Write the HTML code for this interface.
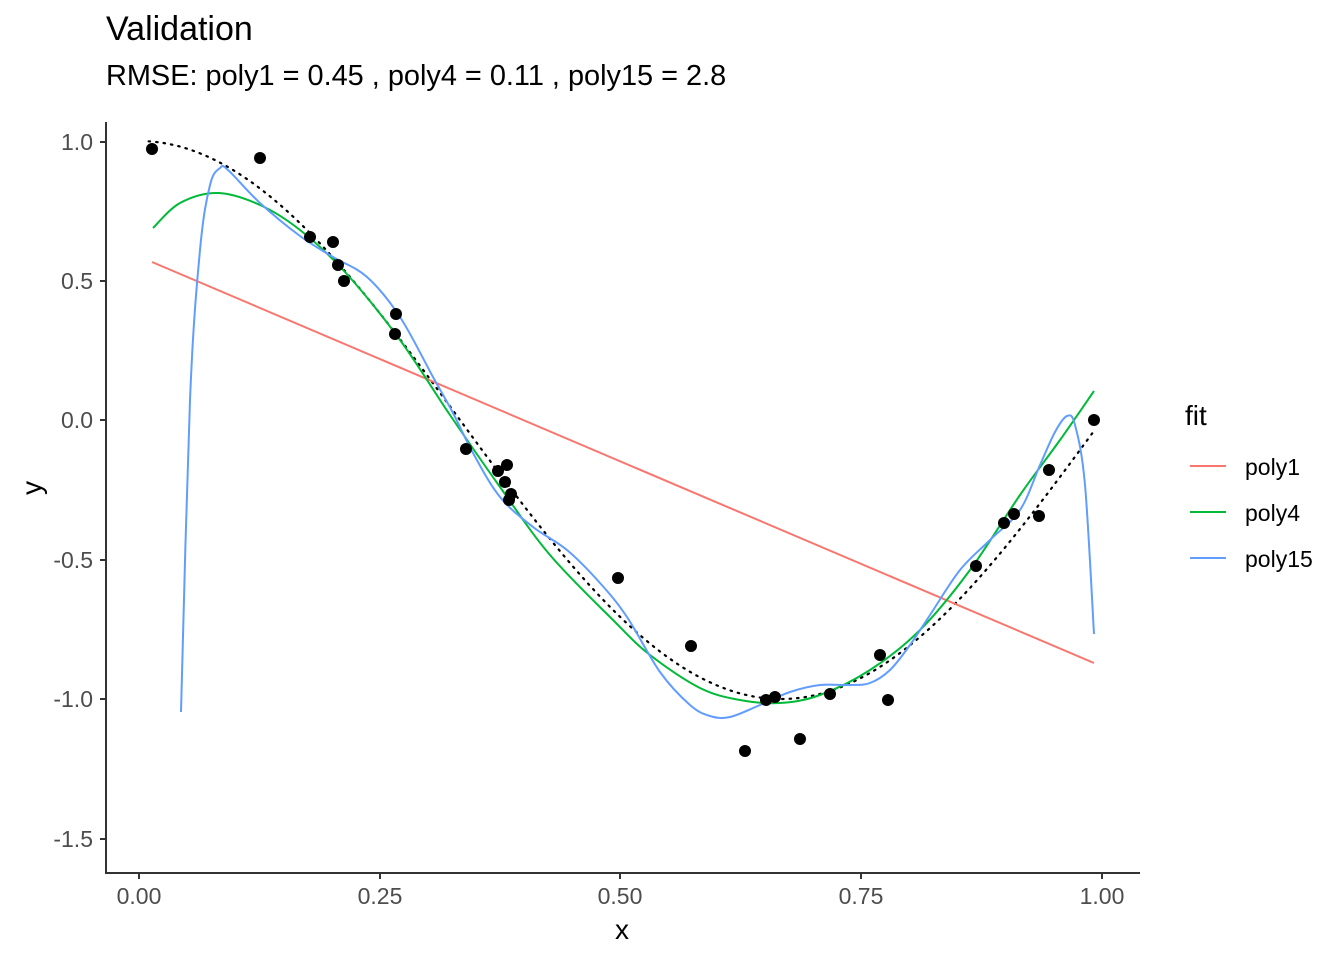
<!DOCTYPE html>
<html><head><style>body{margin:0;background:#fff}svg{display:block}text{font-family:"Liberation Sans",sans-serif}</style></head>
<body>
<svg id="s" width="1344" height="960" xmlns="http://www.w3.org/2000/svg">
<text x="106" y="40" font-size="34" fill="#000">Validation</text>
<text x="106" y="85" font-size="28.9" fill="#000">RMSE: poly1 = 0.45 , poly4 = 0.11 , poly15 = 2.8</text>
<g stroke="#333" stroke-width="2" fill="none">
<line x1="106" y1="122" x2="106" y2="874"/>
<line x1="105" y1="873" x2="1140" y2="873"/>
</g>
<g stroke="#333" stroke-width="2">
<line x1="100" y1="142" x2="106" y2="142"/><line x1="100" y1="281" x2="106" y2="281"/><line x1="100" y1="420" x2="106" y2="420"/><line x1="100" y1="560" x2="106" y2="560"/><line x1="100" y1="699" x2="106" y2="699"/><line x1="100" y1="839" x2="106" y2="839"/>
<line x1="139" y1="873" x2="139" y2="879"/><line x1="380" y1="873" x2="380" y2="879"/><line x1="620" y1="873" x2="620" y2="879"/><line x1="861" y1="873" x2="861" y2="879"/><line x1="1102" y1="873" x2="1102" y2="879"/>
</g>
<g font-size="23" fill="#4d4d4d" text-anchor="end">
<text x="93" y="150">1.0</text><text x="93" y="289">0.5</text><text x="93" y="428">0.0</text><text x="93" y="568">-0.5</text><text x="93" y="707">-1.0</text><text x="93" y="847">-1.5</text>
</g>
<g font-size="23" fill="#4d4d4d" text-anchor="middle">
<text x="139" y="904">0.00</text><text x="380" y="904">0.25</text><text x="620" y="904">0.50</text><text x="861" y="904">0.75</text><text x="1102" y="904">1.00</text>
</g>
<text x="622" y="939" font-size="28" text-anchor="middle">x</text>
<text transform="translate(41,488) rotate(-90)" font-size="28" text-anchor="middle">y</text>
<path id="dot" fill="none" stroke="#000" stroke-width="2.2" stroke-dasharray="1.5,6" stroke-linecap="round"/>
<line x1="152" y1="262" x2="1094" y2="663" stroke="#F8766D" stroke-width="2"/>
<path id="grn" fill="none" stroke="#00BA38" stroke-width="2"/>
<path id="blu" fill="none" stroke="#619CFF" stroke-width="2"/>
<g fill="#000">
<circle cx="152" cy="149" r="6"/><circle cx="260" cy="158" r="6"/><circle cx="310" cy="237" r="6"/><circle cx="333" cy="242" r="6"/><circle cx="338" cy="265" r="6"/><circle cx="344" cy="281" r="6"/><circle cx="396" cy="314" r="6"/><circle cx="395" cy="334" r="6"/><circle cx="466" cy="449" r="6"/><circle cx="498" cy="471" r="6"/><circle cx="507" cy="465" r="6"/><circle cx="505" cy="482" r="6"/><circle cx="511" cy="494" r="6"/><circle cx="509" cy="500" r="6"/><circle cx="618" cy="578" r="6"/><circle cx="691" cy="646" r="6"/><circle cx="745" cy="751" r="6"/><circle cx="766" cy="700" r="6"/><circle cx="775" cy="697" r="6"/><circle cx="800" cy="739" r="6"/><circle cx="830" cy="694" r="6"/><circle cx="880" cy="655" r="6"/><circle cx="888" cy="700" r="6"/><circle cx="976" cy="566" r="6"/><circle cx="1004" cy="523" r="6"/><circle cx="1014" cy="514" r="6"/><circle cx="1039" cy="516" r="6"/><circle cx="1049" cy="470" r="6"/><circle cx="1094" cy="420" r="6"/>
</g>
<text x="1185" y="425" font-size="28">fit</text>
<line x1="1190" y1="466" x2="1226" y2="466" stroke="#F8766D" stroke-width="2"/>
<line x1="1190" y1="512" x2="1226" y2="512" stroke="#00BA38" stroke-width="2"/>
<line x1="1190" y1="558" x2="1226" y2="558" stroke="#619CFF" stroke-width="2"/>
<g font-size="23"><text x="1245" y="475">poly1</text><text x="1245" y="521">poly4</text><text x="1245" y="567">poly15</text></g>
</svg>
<script>
function cr(p){var d="M"+p[0][0]+","+p[0][1];for(var i=0;i<p.length-1;i++){var a=p[i-1]||p[i],b=p[i],c=p[i+1],e=p[i+2]||c;d+=" C"+(b[0]+(c[0]-a[0])/6)+","+(b[1]+(c[1]-a[1])/6)+" "+(c[0]-(e[0]-b[0])/6)+","+(c[1]-(e[1]-b[1])/6)+" "+c[0]+","+c[1];}return d;}
var dp=[];for(var x=0.01;x<=0.9901;x+=0.01){dp.push([139+963*x,420-279*Math.cos(1.5*Math.PI*x)]);}
document.getElementById("dot").setAttribute("d",cr(dp));
document.getElementById("grn").setAttribute("d",cr([[153,228],[180,203],[218,193],[260,205],[300,230],[345,272],[400,340],[450,415],[500,487],[550,555],[613,620],[650,655],[700,688],[740,700],[780,703],[820,695],[870,670],[920,630],[970,570],[1020,495],[1060,440],[1094,391]]));
document.getElementById("blu").setAttribute("d",cr([[181,712],[190,400],[200,250],[210,185],[220,168],[228,170],[260,203],[300,236],[333,257],[367,277],[400,317],[433,377],[453,413],[473,453],[500,497],[533,527],[567,550],[600,583],[627,617],[660,672],[690,705],[710,716],[730,717],[760,705],[790,692],[820,685],[850,685],[870,683],[890,670],[910,645],[930,615],[960,570],[990,540],[1020,510],[1040,465],[1055,432],[1067,416],[1075,425],[1085,485],[1094,634]]));
</script>
</body></html>
